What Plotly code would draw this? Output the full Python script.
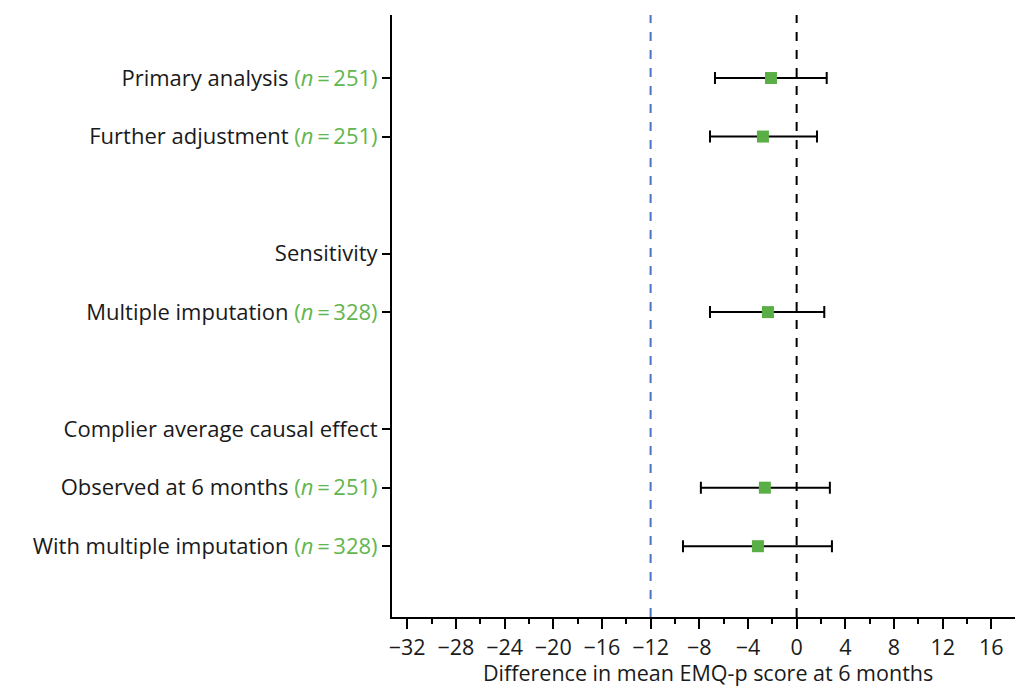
import plotly.graph_objects as go

# Data
labels = ["Primary analysis", "Further adjustment", "", "Sensitivity", "Multiple imputation",
          "", "Complier average causal effect", "Observed at 6 months", "With multiple imputation"]
n_values = [251, 251, None, None, 328, None, None, 251, 328]
estimates = [-2.11, -2.77, None, None, -2.36, None, None, -2.61, -3.18]
ci_low = [-6.71, -7.12, None, None, -7.12, None, None, -7.87, -9.34]
ci_high = [2.47, 1.67, None, None, 2.27, None, None, 2.73, 2.90]
x_ticks = [-32, -28, -24, -20, -16, -12, -8, -4, 0, 4, 8, 12, 16]
ref_line = -12
x_title = "Difference in mean EMQ-p score at 6 months"

GREEN_TEXT = "#62b64f"
GREEN_MARK = "#5aae46"

rows = list(range(len(labels)))
pts_y, pts_x, err_p, err_m = [], [], [], []
for i in rows:
    if estimates[i] is not None:
        pts_y.append(i)
        pts_x.append(estimates[i])
        err_p.append(ci_high[i] - estimates[i])
        err_m.append(estimates[i] - ci_low[i])

tickvals, ticktext = [], []
for i, lab in enumerate(labels):
    if lab == "":
        continue
    t = lab
    if n_values[i] is not None:
        t += f" <span style='color:{GREEN_TEXT}'>(<i>n</i>\u2009=\u2009{n_values[i]})</span>"
    tickvals.append(i)
    ticktext.append(t)

fig = go.Figure()
fig.add_trace(go.Scatter(
    x=pts_x, y=pts_y, mode="markers",
    marker=dict(symbol="square", size=12, color=GREEN_MARK, line=dict(width=0)),
    error_x=dict(type="data", symmetric=False, array=err_p, arrayminus=err_m,
                 color="black", thickness=2, width=6),
    showlegend=False, hoverinfo="skip",
))

fig.add_shape(type="line", xref="x", yref="paper", x0=0, x1=0, y0=0, y1=1,
              line=dict(color="black", width=2, dash="dash"), layer="above")
fig.add_shape(type="line", xref="x", yref="paper", x0=ref_line, x1=ref_line, y0=0, y1=1,
              line=dict(color="#4a72c6", width=2, dash="dash"), layer="above")

fig.add_annotation(text=x_title, xref="paper", yref="paper", x=0.5, y=0,
                   xanchor="center", yanchor="middle", yshift=-55, showarrow=False,
                   font=dict(size=21.5))

font_family = "Open Sans, Noto Sans, sans-serif"
fig.update_layout(
    width=1015, height=680,
    margin=dict(l=384, r=0, t=7, b=71),
    paper_bgcolor="white", plot_bgcolor="white",
    font=dict(family=font_family, size=22, color="#1a1a1a"),
    xaxis=dict(
        range=[-33.25, 18.6], tickvals=x_ticks, ticks="outside", ticklen=10, tickwidth=2,
        tickcolor="black", showline=True, linecolor="black", linewidth=2, showgrid=False,
        zeroline=False, tickfont=dict(size=21.5),
        minor=dict(dtick=2, tick0=0, ticks="outside", ticklen=5, tickwidth=2, tickcolor="black", showgrid=False),
    ),
    yaxis=dict(
        range=[9.21, -1.077], tickvals=tickvals, ticktext=ticktext, ticks="outside",
        ticklen=8, tickwidth=2, tickcolor="black", showline=True, linecolor="black",
        linewidth=2, showgrid=False, zeroline=False, tickfont=dict(size=22),
    ),
)

fig.write_html("out.html")
